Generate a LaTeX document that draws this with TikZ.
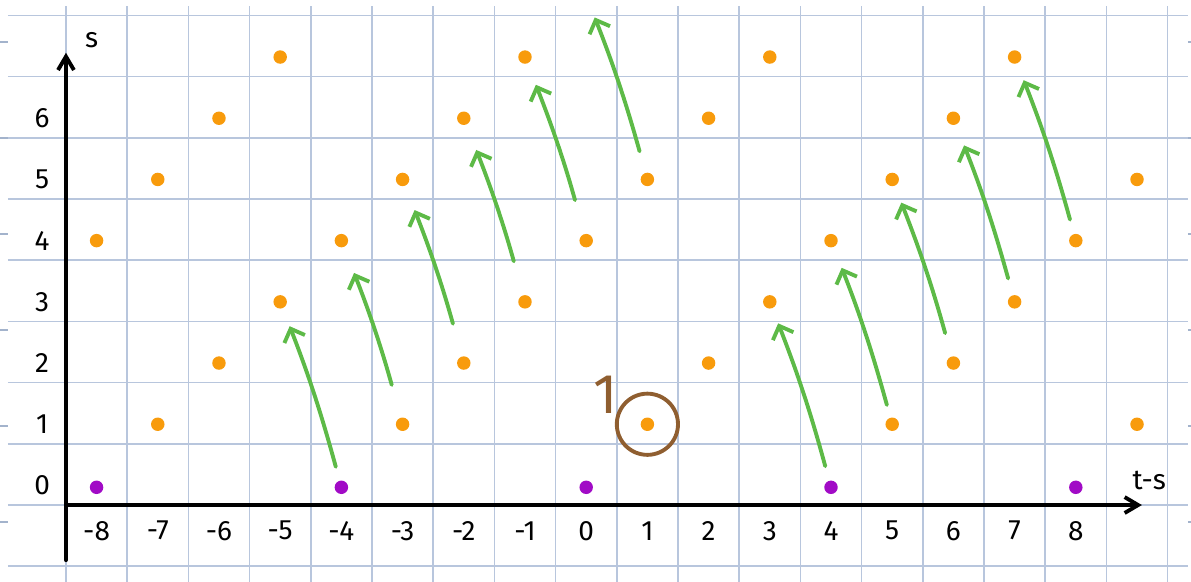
\documentclass[tikz,border=0pt]{standalone}
\usepackage{fontspec}
\setmainfont{Fira Sans}
\usepackage{tikz}
\usetikzlibrary{arrows.meta}
\definecolor{gridblue}{HTML}{B8C6DD}
\definecolor{tickblue}{HTML}{A3B3CC}
\definecolor{dotorange}{HTML}{F89B0C}
\definecolor{dotpurple}{HTML}{A10BC6}
\definecolor{arrowgreen}{HTML}{5DBA47}
\definecolor{inkbrown}{HTML}{8F5E30}
\tikzset{
  gridline/.style={gridblue, line width=0.8pt},
  margintick/.style={tickblue, line width=0.9pt},
  axisline/.style={-{Straight Barb[length=2.2mm,width=2.6mm]}, line width=1.8pt, line cap=round},
  axlbl/.style={font=\fontsize{13}{15}\selectfont},
  odot/.style={circle, fill=dotorange, inner sep=0pt, minimum size=2.2mm},
  pdot/.style={circle, fill=dotpurple, inner sep=0pt, minimum size=2.2mm},
  shiftarrow/.style={arrowgreen, line width=1.8pt, line cap=round,
                     -{Straight Barb[length=1.8mm,width=3.6mm]}},
  ring/.style={circle, draw=inkbrown, line width=1.8pt, minimum size=1cm, inner sep=0pt},
}

\begin{document}
\begin{tikzpicture}
  \useasboundingbox (-9.578,-1.242) rectangle (9.882,8.252);
  % squared paper
  \foreach \x in {-8.5,-7.5,...,9.5}
    \draw[gridline] (\x,-1.3) -- (\x,8.15);
  \foreach \y in {-1,...,8}
    \draw[gridline] (-9.45,\y) -- (9.83,\y);
  \foreach \y in {7.565,5.996,4.427,2.858,1.289,-0.28}{
    \draw[margintick] (-9.6,\y) -- (-9.45,\y);
    \draw[margintick] (9.83,\y) -- (9.9,\y);
  }

  % axes
  \coordinate (o) at (-8.5,0);
  \coordinate (ybot) at (-8.5,-0.9);
  \coordinate (ytop) at (-8.5,7.39);
  \coordinate (xend) at (9.08,0);
  \draw[axisline] (ybot) -- (ytop);
  \draw[axisline] (o) -- (xend);
  \node[axlbl] (slbl) at (-8.08,7.6) {s};
  \node[axlbl] (tslbl) at (9.2,0.4) {t-s};
  \foreach \v in {-8,...,8}
    \node[axlbl] (x\v) at (\v,-0.42) {\v};
  \foreach \s in {0,...,6}
    \node[axlbl] (y\s) at (-8.89,\s+0.32) {\s};

  % points
  \foreach \v/\s in {-8/4,-7/5,-6/6,-5/7,
                     -7/1,-6/2,-5/3,-4/4,-3/5,-2/6,-1/7,
                     -3/1,-2/2,-1/3,0/4,1/5,2/6,3/7,
                     1/1,2/2,3/3,4/4,5/5,6/6,7/7,
                     5/1,6/2,7/3,8/4,9/5,
                     9/1}
    \node[odot] (d\v-\s) at (\v,\s+0.32) {};
  \foreach \v in {-8,-4,0,4,8}
    \node[pdot] (d\v-0) at (\v,0.29) {};
  \coordinate (d0-8) at (0,8.32);

  % shifts
  \foreach \a/\b/\p/\q in {-4-0/-5-3/0.23/0.31, -3-1/-4-4/0.55/0.45,
                           -2-2/-3-5/0.55/0.42, -1-3/-2-6/0.57/0.44,
                           0-4/-1-7/0.57/0.37, 1-5/0-8/0.36/0.38,
                           4-0/3-3/0.24/0.26, 5-1/4-4/0.21/0.36,
                           6-2/5-5/0.39/0.29, 7-3/6-6/0.28/0.36,
                           8-4/7-7/0.24/0.29}
    \draw[shiftarrow, shorten <=\p cm, shorten >=\q cm] (d\a) to[bend right=3] (d\b);

  % note
  \node[ring] (mark) at (d1-1) {};
  \node[font=\fontsize{26}{28}\selectfont, text=inkbrown] (one) at (0.32,1.8) {1};
\end{tikzpicture}
\end{document}
